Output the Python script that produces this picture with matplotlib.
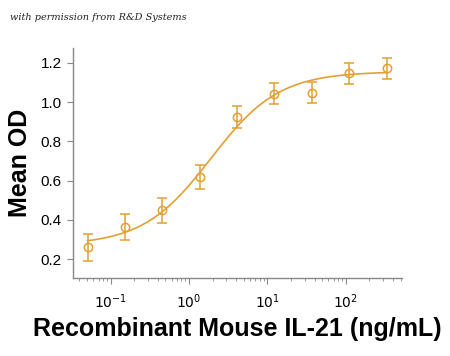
import numpy as np
import matplotlib
matplotlib.use("Agg")
import matplotlib.pyplot as plt

# Data
conc = [0.0508, 0.152, 0.457, 1.37, 4.12, 12.3, 37.0, 111.0, 333.0]
mean_od = [0.26, 0.364, 0.449, 0.617, 0.924, 1.043, 1.048, 1.147, 1.171]
err = [0.068, 0.065, 0.063, 0.060, 0.057, 0.055, 0.054, 0.053, 0.052]
# 4PL fit parameters of the drawn curve
fit_bottom, fit_top, fit_ec50, fit_hill = 0.27, 1.155, 1.9, 1.0

yticks = [0.2, 0.4, 0.6, 0.8, 1.0, 1.2]
color = "#E2A033"

fig = plt.figure(figsize=(4.5, 3.56), dpi=100)
ax = fig.add_axes([0.162, 0.219, 0.731, 0.646])

xc = np.logspace(np.log10(conc[0]), np.log10(conc[-1]), 300)
yc = fit_top + (fit_bottom - fit_top) / (1 + (xc / fit_ec50) ** fit_hill)
ax.plot(xc, yc, color=color, lw=1.2)
ax.errorbar(conc, mean_od, yerr=err, fmt="o", mfc="none", mec=color, ms=6,
            mew=1.1, ecolor=color, elinewidth=1.1, capsize=3.5, capthick=1.1)

ax.set_xscale("log")
ax.set_xlim(0.033, 518)
ax.set_ylim(0.103, 1.275)
ax.set_yticks(yticks)
ax.set_yticklabels([f"{v:.1f}" for v in yticks], fontsize=11, family="Liberation Sans")
ax.set_xticks([0.1, 1, 10, 100])
ax.set_xticklabels([r"$10^{-1}$", r"$10^{0}$", r"$10^{1}$", r"$10^{2}$"], fontsize=10)
for s in ["top", "right"]:
    ax.spines[s].set_visible(False)
for s in ["left", "bottom"]:
    ax.spines[s].set_color("#888888")
    ax.spines[s].set_linewidth(1.0)
ax.tick_params(axis="y", which="major", length=4, color="#888888", pad=4)
ax.tick_params(axis="x", which="major", length=4, color="#888888", pad=6)
ax.tick_params(axis="x", which="minor", length=2, color="#888888")

ax.set_ylabel("Mean OD", fontsize=18, fontweight="bold", family="Liberation Sans", labelpad=6)
ax.set_xlabel("Recombinant Mouse IL-21 (ng/mL)", fontsize=18, fontweight="bold",
              family="Liberation Sans", labelpad=5)

fig.text(0.022, 0.943, "with permission from R&D Systems", fontsize=7, style="italic",
         family="DejaVu Serif", color="#222222")

fig.savefig("out.png", dpi=100)
